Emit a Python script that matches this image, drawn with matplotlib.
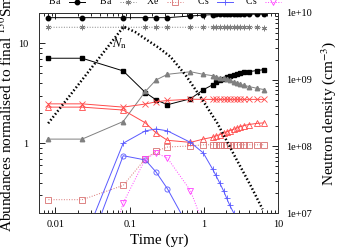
import matplotlib
matplotlib.use("Agg")
import matplotlib.pyplot as plt
from matplotlib.ticker import FixedLocator, FixedFormatter, LogLocator, NullFormatter

plt.rcParams['font.family'] = ['Liberation Serif', 'DejaVu Serif']
plt.rcParams['mathtext.fontset'] = 'stix'

# snapshot times (yr)
times = [0.0081, 0.023, 0.082, 0.163, 0.227, 0.323, 0.66, 0.98, 1.31, 1.44,
         1.63, 1.85, 2.03, 2.22, 2.52, 2.77, 3.04, 3.44, 4.02, 5.15, 6.41]

ba_circ = [18.1, 18.1, 18.1, 18.1, 18.1, 18.1, 18.8, 19.2, 19.4, 19.5,
           19.5, 19.5, 19.5, 19.6, 19.6, 19.6, 19.6, 19.6, 19.6, 19.6, 19.6]
ba_star = [14.5, 14.5, 14.5, 14.5, 14.5, 14.5, 14.5, 14.5, 14.6, 14.6,
           14.6, 14.6, 14.6, 14.6, 14.6, 14.6, 14.6, 14.6, 14.5, 14.5, 14.3]
ba_sq = [7.1, 7.1, 5.3, 3.22, 2.72, 2.43, 2.79, 3.43, 3.85, 4.06,
         4.25, 4.4, 4.57, 4.68, 4.79, 4.9, 5.0, 5.13, 5.22, 5.34, 5.46]
ba_tri = [1.10, 1.10, 1.65, 3.3, 4.3, 4.9, 5.2, 4.9, 4.75, 4.65,
          4.55, 4.45, 4.35, 4.25, 4.1, 4.0, 3.9, 3.8, 3.7, 3.55, 3.45]
xe_x = [2.48, 2.48, 2.3, 2.47, 2.6, 2.68, 2.76, 2.75, 2.75, 2.75,
        2.75, 2.75, 2.75, 2.75, 2.75, 2.75, 2.75, 2.75, 2.75, 2.75, 2.75]
xe_tri = [2.3, 2.3, 2.15, 1.6, 1.27, 1.07, 1.02, 1.1, 1.15, 1.18,
          1.22, 1.26, 1.3, 1.34, 1.38, 1.42, 1.46, 1.5, 1.54, 1.58, 1.6]
xe_sq = [0.272, 0.272, 0.378, 0.70, 0.83, 0.916, 0.94, 0.965, 0.965, 0.965,
         0.965, 0.965, 0.965, 0.965, 0.965, 0.965, 0.965, 0.965, 0.965, 0.965, 0.965]
cs_plus = [0.09, 0.096, 1.0, 1.33, 1.39, 1.33, 1.02, 0.8, 0.55, 0.48,
           0.40, 0.33, 0.28, 0.24, 0.2, 0.17, 0.15, 0.13, 0.11, 0.09, 0.08]
cs_circ = [0.06, 0.06, 0.75, 0.68, 0.515, 0.35, 0.133, 0.09, 0.07, 0.065,
           0.06, 0.055, 0.05, 0.045, 0.04, 0.037, 0.034, 0.03, 0.027, 0.023, 0.02]
cs_tri = [0.012, 0.012, 0.252, 0.695, 0.80, 0.71, 0.335, 0.154, 0.1, 0.09,
          0.08, 0.07, 0.06, 0.055, 0.05, 0.045, 0.04, 0.035, 0.03, 0.025, 0.02]

# neutron density (cm^-3)
nn_t = [0.00803, 0.083, 0.119, 0.172, 0.244, 0.355, 0.566, 0.902, 1.52, 2.68, 4.28, 6.15]
nn_v = [2.21e8, 6.21e9, 5.17e9, 3.92e9, 3.03e9, 2.20e9, 1.17e9, 5.48e8, 2.21e8,
        6.68e7, 2.54e7, 1.14e7]

grey = '#808080'
red = '#ff4a4a'
pink = '#d87070'
blue = '#5a5aff'
mag = '#ff40ff'

fig = plt.figure(figsize=(3.54, 2.48), dpi=100)
ax = fig.add_axes([0.111, 0.141, 0.675, 0.807])
ms = 3.2
lw = 0.7

l1, = ax.plot(times, ba_circ, color='black', lw=lw, marker='o', ms=ms,
              label='$^{138}$Ba')
l2, = ax.plot(times, ba_star, color=grey, lw=lw, ls=':', marker=(6, 2, 0), ms=ms + 0.8,
              mew=0.6, label='$^{137}$Ba')
ax.plot(times, ba_sq, color='black', lw=lw, marker='s', ms=ms)
ax.plot(times, ba_tri, color=grey, lw=lw, marker='^', ms=ms)
ax.plot(times, xe_x, color=red, lw=lw, marker='x', ms=ms + 0.5, mew=0.6)
ax.plot(times, xe_tri, color=red, lw=lw, marker='^', ms=ms + 0.5, mfc='none', mew=0.6)
l3, = ax.plot(times, xe_sq, color=pink, lw=lw, ls=':', marker='s', ms=ms + 0.5,
              mfc='none', mew=0.6, label='$^{134}$Xe')
l4, = ax.plot(times, cs_plus, color=blue, lw=lw, marker='+', ms=ms + 1.5, mew=0.6,
              label='$^{135}$Cs')
ax.plot(times, cs_circ, color=blue, lw=lw, marker='o', ms=ms + 0.5, mfc='none', mew=0.6)
l5, = ax.plot(times, cs_tri, color=mag, lw=lw, ls=':', marker='v', ms=ms + 0.5,
              mfc='none', mew=0.6, label='$^{137}$Cs')

ax.set_xscale('log')
ax.set_yscale('log')
ax.set_xlim(0.0061, 10)
ax.set_ylim(0.2, 20.2)

ax.xaxis.set_major_locator(FixedLocator([0.01, 0.1, 1, 10]))
ax.xaxis.set_major_formatter(FixedFormatter(['0.01', '0.1', '1', '10']))
ax.xaxis.set_minor_locator(LogLocator(base=10, subs=range(2, 10)))
ax.xaxis.set_minor_formatter(NullFormatter())
ax.yaxis.set_major_locator(FixedLocator([1, 10]))
ax.yaxis.set_major_formatter(FixedFormatter(['1', '10']))
ax.yaxis.set_minor_locator(LogLocator(base=10, subs=range(2, 10)))
ax.yaxis.set_minor_formatter(NullFormatter())
ax.tick_params(which='both', direction='in', top=True, right=False,
               labelsize=7.5, width=0.6, pad=5)
ax.tick_params(which='major', length=4)
ax.tick_params(which='minor', length=2)
ax.tick_params(axis='y', pad=8)

ax2 = ax.twinx()
ax2.plot(nn_t, nn_v, color='black', lw=1.8, ls=(0, (0.6, 0.9)))
ax2.set_yscale('log')
ax2.set_ylim(1e7, 1e10)
ax2.yaxis.set_major_locator(FixedLocator([1e7, 1e8, 1e9, 1e10]))
ax2.yaxis.set_major_formatter(FixedFormatter(['1e+07', '1e+08', '1e+09', '1e+10']))
ax2.yaxis.set_minor_locator(LogLocator(base=10, subs=range(2, 10)))
ax2.yaxis.set_minor_formatter(NullFormatter())
ax2.tick_params(which='both', direction='in', labelsize=7.5, width=0.6, pad=6)
ax2.tick_params(which='major', length=4)
ax2.tick_params(which='minor', length=2)

for a in (ax, ax2):
    for s in a.spines.values():
        s.set_linewidth(0.7)
        s.set_color('#333333')

ax.text(0.072, 9.9, '$N_{\\rm n}$', fontsize=9, ha='center', va='center')

ax.set_xlabel('Time (yr)', fontsize=11, labelpad=3)
ax.set_ylabel('Abundances normalised to final $^{150}$Sm', fontsize=11, labelpad=2)
ax2.set_ylabel('Neutron density (cm$^{-3}$)', fontsize=11, labelpad=5)

# only the last row of the key shows, clipped by the top edge;
# one small legend per entry so each sits where the original key puts it
key_x = [77, 128, 175, 225, 273]   # marker centres, px
for h, kx in zip([l1, l2, l3, l4, l5], key_x):
    lg = fig.legend(handles=[h], loc='center right',
                    bbox_to_anchor=((kx + 8) / 354, 0.998),
                    frameon=False, markerfirst=False, fontsize=7,
                    handlelength=1.6, handletextpad=0.75,
                    borderaxespad=0, borderpad=0)

fig.savefig('out.png', dpi=100)
